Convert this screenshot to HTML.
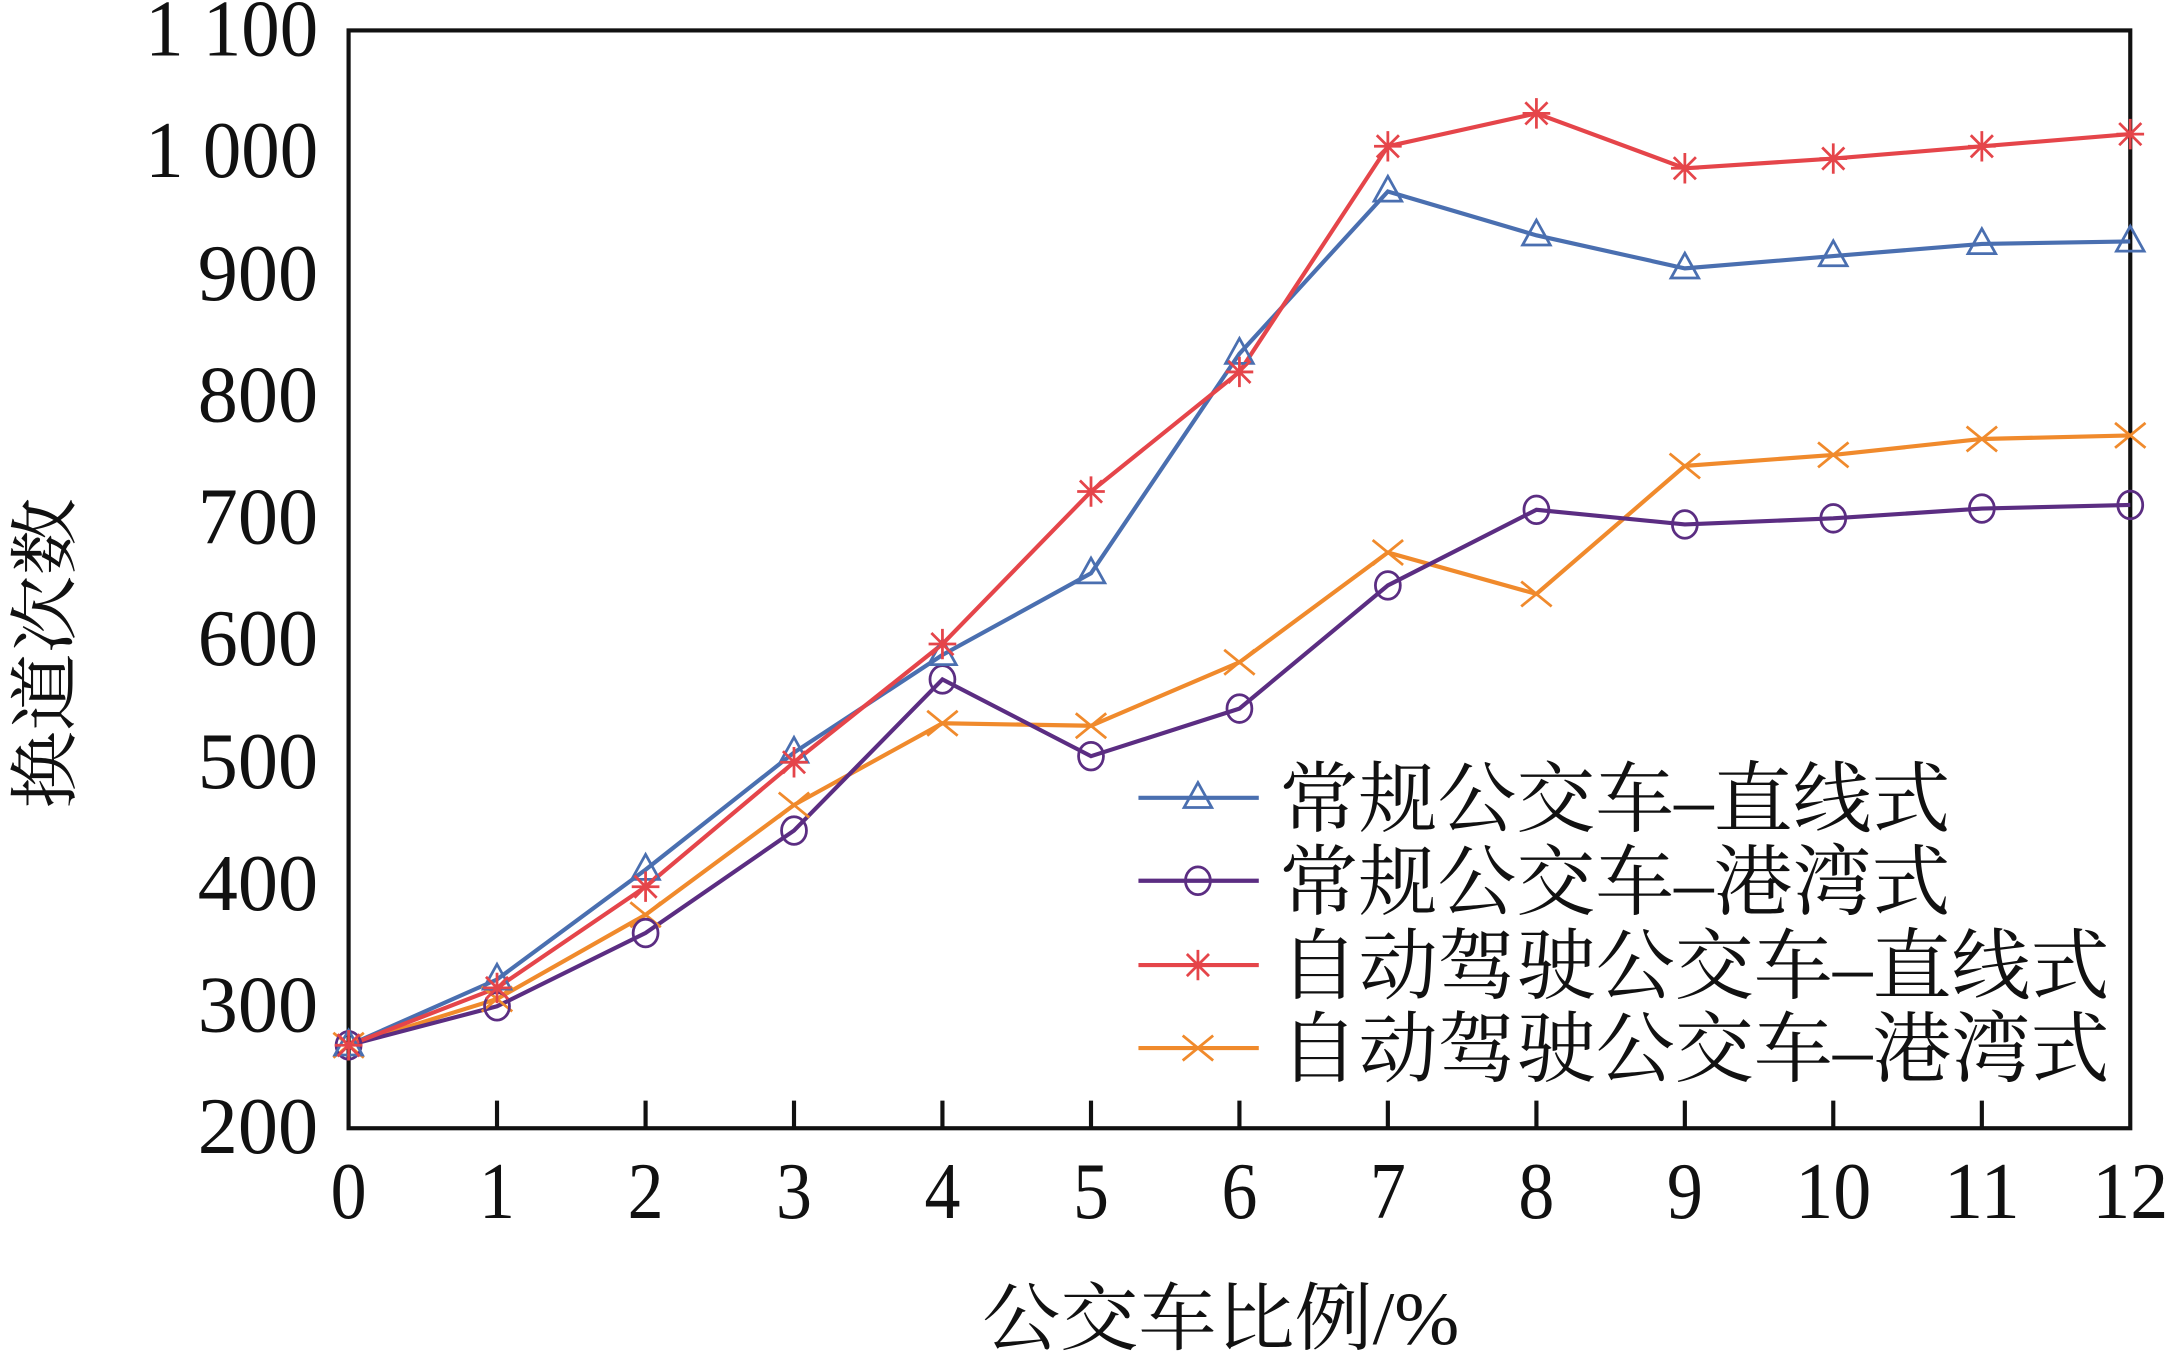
<!DOCTYPE html>
<html><head><meta charset="utf-8"><style>html,body{margin:0;padding:0;background:#fff}svg{display:block}</style></head>
<body>
<svg width="2169" height="1355" viewBox="0 0 1568 980" preserveAspectRatio="none" xmlns="http://www.w3.org/2000/svg">
<defs>
<g id="tri"><path d="M0,-11 L10,7 L-10,7 Z" fill="none" stroke="#4a6fb0" stroke-width="2"/></g>
<g id="cir"><ellipse cx="0" cy="0" rx="9" ry="10" fill="none" stroke="#5b2d82" stroke-width="2"/></g>
<g id="ast" stroke="#e5454a" stroke-width="2"><path d="M-10,0 H10 M0,-11 V11 M-8,-8 L8,8 M-8,8 L8,-8"/></g>
<g id="crs" stroke="#f08a2c" stroke-width="2"><path d="M-11,-9 L11,9 M-11,9 L11,-9"/></g>
</defs>
<rect x="252" y="22" width="1288" height="794" fill="none" stroke="#111" stroke-width="3"/>
<g stroke="#111" stroke-width="3">
<path d="M359.3,816V796M466.7,816V796M574,816V796M681.3,816V796M788.7,816V796M896,816V796M1003.3,816V796M1110.7,816V796M1218,816V796M1325.3,816V796M1432.7,816V796"/>
</g>
<g font-family="Liberation Serif, serif" font-size="58" fill="#111" text-anchor="end" lengthAdjust="spacingAndGlyphs">
<text x="230" y="40" textLength="125" lengthAdjust="spacingAndGlyphs">1 100</text><text x="230" y="128" textLength="125" lengthAdjust="spacingAndGlyphs">1 000</text>
<text x="230" y="217" textLength="87" lengthAdjust="spacingAndGlyphs">900</text><text x="230" y="305" textLength="87" lengthAdjust="spacingAndGlyphs">800</text><text x="230" y="393" textLength="87" lengthAdjust="spacingAndGlyphs">700</text><text x="230" y="481" textLength="87" lengthAdjust="spacingAndGlyphs">600</text><text x="230" y="570" textLength="87" lengthAdjust="spacingAndGlyphs">500</text><text x="230" y="658" textLength="87" lengthAdjust="spacingAndGlyphs">400</text><text x="230" y="746" textLength="87" lengthAdjust="spacingAndGlyphs">300</text><text x="230" y="834" textLength="87" lengthAdjust="spacingAndGlyphs">200</text>
</g>
<g font-family="Liberation Serif, serif" font-size="58" fill="#111" text-anchor="middle">
<text x="252" y="881" textLength="26" lengthAdjust="spacingAndGlyphs">0</text><text x="359.3" y="881" textLength="26" lengthAdjust="spacingAndGlyphs">1</text><text x="466.7" y="881" textLength="26" lengthAdjust="spacingAndGlyphs">2</text><text x="574" y="881" textLength="26" lengthAdjust="spacingAndGlyphs">3</text><text x="681.3" y="881" textLength="26" lengthAdjust="spacingAndGlyphs">4</text><text x="788.7" y="881" textLength="26" lengthAdjust="spacingAndGlyphs">5</text><text x="896" y="881" textLength="26" lengthAdjust="spacingAndGlyphs">6</text><text x="1003.3" y="881" textLength="26" lengthAdjust="spacingAndGlyphs">7</text><text x="1110.7" y="881" textLength="26" lengthAdjust="spacingAndGlyphs">8</text><text x="1218" y="881" textLength="26" lengthAdjust="spacingAndGlyphs">9</text><text x="1325.3" y="881" textLength="55" lengthAdjust="spacingAndGlyphs">10</text><text x="1432.7" y="881" textLength="55" lengthAdjust="spacingAndGlyphs">11</text><text x="1540" y="881" textLength="55" lengthAdjust="spacingAndGlyphs">12</text>
</g>
<text x="710" y="972" textLength="345" lengthAdjust="spacingAndGlyphs" font-family="Liberation Serif, 'Noto Serif CJK SC', serif" font-size="54" fill="#111">公交车比例/%</text>
<text transform="translate(50,585) rotate(-90)" textLength="225" lengthAdjust="spacingAndGlyphs" font-family="'Noto Serif CJK SC', serif" font-size="50" fill="#111">换道次数</text>
<g fill="none" stroke-width="3">
<polyline stroke="#f08a2c" points="252,756 359.3,722.5 466.7,661.6 574,582.2 681.3,523.1 788.7,524.9 896,479 1003.3,399.6 1110.7,429.6 1218,337 1325.3,329 1432.7,317.5 1540,314.9"/>
<polyline stroke="#5b2d82" points="252,756 359.3,727.8 466.7,674.8 574,600.7 681.3,491.4 788.7,546.9 896,512.5 1003.3,423.4 1110.7,368.7 1218,379.3 1325.3,374.9 1432.7,367.8 1540,365.2"/>
<polyline stroke="#4a6fb0" points="252,756 359.3,708.4 466.7,629 574,544.3 681.3,473.7 788.7,414.6 896,255.8 1003.3,138.5 1110.7,170.2 1218,194.1 1325.3,185.2 1432.7,176.4 1540,174.6"/>
<polyline stroke="#e5454a" points="252,756 359.3,714.5 466.7,641.3 574,551.3 681.3,465.8 788.7,355.5 896,269 1003.3,105.8 1110.7,82 1218,121.7 1325.3,114.7 1432.7,105.8 1540,97"/>
</g>
<g>
<use href="#crs" x="252" y="756"/><use href="#crs" x="359.3" y="722.5"/><use href="#crs" x="466.7" y="661.6"/><use href="#crs" x="574" y="582.2"/><use href="#crs" x="681.3" y="523.1"/><use href="#crs" x="788.7" y="524.9"/><use href="#crs" x="896" y="479"/><use href="#crs" x="1003.3" y="399.6"/><use href="#crs" x="1110.7" y="429.6"/><use href="#crs" x="1218" y="337"/><use href="#crs" x="1325.3" y="329"/><use href="#crs" x="1432.7" y="317.5"/><use href="#crs" x="1540" y="314.9"/>
<use href="#cir" x="252" y="756"/><use href="#cir" x="359.3" y="727.8"/><use href="#cir" x="466.7" y="674.8"/><use href="#cir" x="574" y="600.7"/><use href="#cir" x="681.3" y="491.4"/><use href="#cir" x="788.7" y="546.9"/><use href="#cir" x="896" y="512.5"/><use href="#cir" x="1003.3" y="423.4"/><use href="#cir" x="1110.7" y="368.7"/><use href="#cir" x="1218" y="379.3"/><use href="#cir" x="1325.3" y="374.9"/><use href="#cir" x="1432.7" y="367.8"/><use href="#cir" x="1540" y="365.2"/>
<use href="#tri" x="252" y="756"/><use href="#tri" x="359.3" y="708.4"/><use href="#tri" x="466.7" y="629"/><use href="#tri" x="574" y="544.3"/><use href="#tri" x="681.3" y="473.7"/><use href="#tri" x="788.7" y="414.6"/><use href="#tri" x="896" y="255.8"/><use href="#tri" x="1003.3" y="138.5"/><use href="#tri" x="1110.7" y="170.2"/><use href="#tri" x="1218" y="194.1"/><use href="#tri" x="1325.3" y="185.2"/><use href="#tri" x="1432.7" y="176.4"/><use href="#tri" x="1540" y="174.6"/>
<use href="#ast" x="252" y="756"/><use href="#ast" x="359.3" y="714.5"/><use href="#ast" x="466.7" y="641.3"/><use href="#ast" x="574" y="551.3"/><use href="#ast" x="681.3" y="465.8"/><use href="#ast" x="788.7" y="355.5"/><use href="#ast" x="896" y="269"/><use href="#ast" x="1003.3" y="105.8"/><use href="#ast" x="1110.7" y="82"/><use href="#ast" x="1218" y="121.7"/><use href="#ast" x="1325.3" y="114.7"/><use href="#ast" x="1432.7" y="105.8"/><use href="#ast" x="1540" y="97"/>
</g>
<g stroke-width="3">
<line x1="823" y1="577" x2="910" y2="577" stroke="#4a6fb0"/><use href="#tri" x="866" y="577"/>
<line x1="823" y1="637" x2="910" y2="637" stroke="#5b2d82"/><use href="#cir" x="866" y="637"/>
<line x1="823" y1="698" x2="910" y2="698" stroke="#e5454a"/><use href="#ast" x="866" y="698"/>
<line x1="823" y1="758" x2="910" y2="758" stroke="#f08a2c"/><use href="#crs" x="866" y="758"/>
</g>
<g font-family="Liberation Serif, 'Noto Serif CJK SC', serif" font-size="56" fill="#111">
<text x="925" y="597" textLength="485" lengthAdjust="spacingAndGlyphs">常规公交车–直线式</text>
<text x="925" y="657" textLength="485" lengthAdjust="spacingAndGlyphs">常规公交车–港湾式</text>
<text x="925" y="718" textLength="600" lengthAdjust="spacingAndGlyphs">自动驾驶公交车–直线式</text>
<text x="925" y="778" textLength="600" lengthAdjust="spacingAndGlyphs">自动驾驶公交车–港湾式</text>
</g>
</svg>
</body></html>
